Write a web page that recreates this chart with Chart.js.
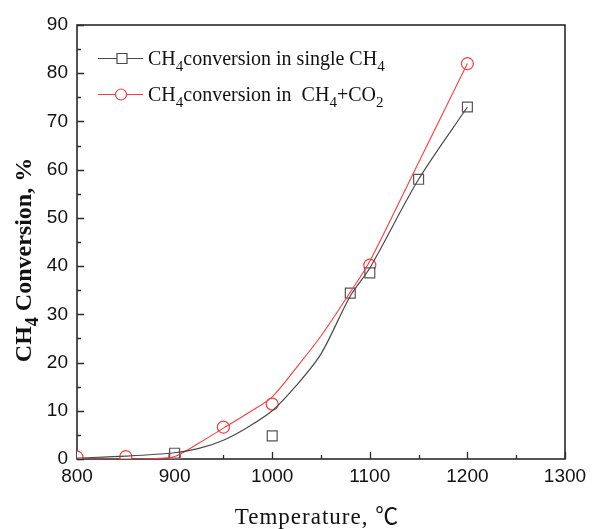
<!DOCTYPE html>
<html>
<head>
<meta charset="utf-8">
<script src="https://cdn.jsdelivr.net/npm/chart.js@4.4.1/dist/chart.umd.min.js"></script>
<style>
  html, body { margin: 0; padding: 0; background: #ffffff; }
  #c { display: block; }
</style>
</head>
<body>
<canvas id="c" width="594" height="529"></canvas>
<script>
// Measured CH4 conversion (%) with a pure CH4 feed
const tempSingle = [900, 1000, 1080, 1100, 1150, 1200];
const convSingle = [1.2, 4.8, 34.4, 38.6, 58.0, 73.0];

// Measured CH4 conversion (%) with a CH4 + CO2 feed
const tempMixed = [800, 850, 900, 950, 1000, 1100, 1200];
const convMixed = [0.4, 0.5, 0.5, 6.6, 11.4, 40.2, 82.0];

// Fitted trend curves drawn through the measurements
const fitTempSingle = [800, 850, 900, 925, 950, 975, 1000, 1025, 1050, 1080, 1100, 1150, 1200];
const fitConvSingle = [0.2, 0.6, 1.3, 2.2, 3.9, 6.6, 10.0, 15.3, 21.8, 33.8, 39.6, 58.0, 73.0];
const fitTempMixed = [800, 850, 880, 900, 925, 950, 975, 1000, 1025, 1050, 1080, 1100, 1150, 1200];
const fitConvMixed = [0.0, 0.0, 0.1, 0.5, 3.3, 6.4, 9.5, 12.9, 19.0, 25.5, 34.6, 41.0, 61.5, 82.0];

// Axis ticks
const xTicks = [800, 900, 1000, 1100, 1200, 1300];
const yTicks = [0, 10, 20, 30, 40, 50, 60, 70, 80, 90];

const BLACK = '#4a4a4a';
const RED = '#ff3b3b';

const pts = (xs, ys) => xs.map((x, i) => ({ x: x, y: ys[i] }));

// Text with subscript runs, e.g. CH4
function richWidth(ctx, parts, font, subFont) {
  let w = 0;
  for (const p of parts) {
    ctx.font = p.sub ? subFont : font;
    w += ctx.measureText(p.t).width;
  }
  return w;
}
function drawRich(ctx, parts, x, y, font, subFont, subDy) {
  ctx.textAlign = 'left';
  ctx.textBaseline = 'alphabetic';
  for (const p of parts) {
    ctx.font = p.sub ? subFont : font;
    ctx.fillText(p.t, x, p.sub ? y + subDy : y);
    x += ctx.measureText(p.t).width;
  }
}

const framePlugin = {
  id: 'frame',
  beforeDatasetsDraw(chart) {
    const { ctx, chartArea: a, scales } = chart;
    ctx.save();
    ctx.strokeStyle = '#2a2a2a';
    ctx.lineWidth = 1.6;
    ctx.strokeRect(a.left, a.top, a.right - a.left, a.bottom - a.top);
    // inward tick marks, major + minor
    ctx.lineWidth = 1.3;
    ctx.beginPath();
    for (let v = 800; v <= 1300; v += 50) {
      const px = Math.round(scales.x.getPixelForValue(v)) + 0.5;
      const len = (v % 100 === 0) ? 7 : 4;
      ctx.moveTo(px, a.bottom);
      ctx.lineTo(px, a.bottom - len);
    }
    for (let v = 0; v <= 90; v += 5) {
      const py = Math.round(scales.y.getPixelForValue(v)) + 0.5;
      const len = (v % 10 === 0) ? 7 : 4;
      ctx.moveTo(a.left, py);
      ctx.lineTo(a.left + len, py);
    }
    ctx.stroke();
    ctx.restore();
  },
  afterDraw(chart) {
    const { ctx, chartArea: a } = chart;
    ctx.save();
    ctx.fillStyle = '#111111';

    // legend
    const lf = '20px "Liberation Serif", "Times New Roman", serif';
    const lsf = '15px "Liberation Serif", "Times New Roman", serif';
    const rows = [
      { y: 58, color: BLACK, style: 'rect',
        parts: [{ t: 'CH' }, { t: '4', sub: true }, { t: 'conversion in single CH' }, { t: '4', sub: true }] },
      { y: 94, color: RED, style: 'circle',
        parts: [{ t: 'CH' }, { t: '4', sub: true }, { t: 'conversion in  CH' }, { t: '4', sub: true }, { t: '+CO' }, { t: '2', sub: true }] }
    ];
    for (const r of rows) {
      ctx.strokeStyle = r.color;
      ctx.lineWidth = 1.2;
      ctx.beginPath();
      ctx.moveTo(98, r.y + 0.5);
      ctx.lineTo(143, r.y + 0.5);
      ctx.stroke();
      ctx.fillStyle = '#ffffff';
      ctx.beginPath();
      if (r.style === 'rect') {
        ctx.rect(117, r.y - 4.5, 10, 10);
      } else {
        ctx.arc(121, r.y + 0.5, 5.5, 0, Math.PI * 2);
      }
      ctx.fill();
      ctx.stroke();
      ctx.fillStyle = '#111111';
      drawRich(ctx, r.parts, 148, r.y + 7, lf, lsf, 6);
    }

    // y axis title
    const yf = 'bold 24px "Liberation Serif", "Times New Roman", serif';
    const ysf = 'bold 18px "Liberation Serif", "Times New Roman", serif';
    const yParts = [{ t: 'CH' }, { t: '4', sub: true }, { t: ' Conversion, %' }];
    ctx.save();
    ctx.translate(31, 260);
    ctx.rotate(-Math.PI / 2);
    const yw = richWidth(ctx, yParts, yf, ysf);
    drawRich(ctx, yParts, -yw / 2, 0, yf, ysf, 7);
    ctx.restore();

    // x axis title
    ctx.font = '23px "Liberation Serif", "Noto Sans CJK SC", serif';
    ctx.letterSpacing = '1px';
    ctx.textAlign = 'center';
    ctx.textBaseline = 'alphabetic';
    ctx.fillText('Temperature, \u2103', (a.left + a.right) / 2 - 4, 524);
    ctx.restore();
  }
};

new Chart(document.getElementById('c'), {
  type: 'line',
  data: {
    datasets: [
      {
        label: 'fit single',
        data: pts(fitTempSingle, fitConvSingle),
        borderColor: BLACK, borderWidth: 1.2,
        pointRadius: 0, tension: 0.3, fill: false
      },
      {
        label: 'fit mixed',
        data: pts(fitTempMixed, fitConvMixed),
        borderColor: RED, borderWidth: 1.1,
        pointRadius: 0, tension: 0.3, fill: false
      },
      {
        label: 'CH4conversion in single CH4',
        data: pts(tempSingle, convSingle),
        showLine: false, clip: 0,
        pointStyle: 'rect', pointRadius: 7,
        pointBorderColor: '#555555', pointBackgroundColor: '#ffffff', pointBorderWidth: 1.2
      },
      {
        label: 'CH4conversion in CH4+CO2',
        data: pts(tempMixed, convMixed),
        showLine: false, clip: 0,
        pointStyle: 'circle', pointRadius: 6,
        pointBorderColor: RED, pointBackgroundColor: '#ffffff', pointBorderWidth: 1.2
      }
    ]
  },
  options: {
    responsive: false,
    animation: false,
    devicePixelRatio: 1,
    layout: { padding: { left: 0, right: 29, top: 25, bottom: 0 } },
    plugins: { legend: { display: false }, tooltip: { enabled: false } },
    scales: {
      x: {
        type: 'linear', min: 800, max: 1300,
        afterFit: (s) => { s.height = 70; },
        afterBuildTicks: (s) => { s.ticks = xTicks.map(v => ({ value: v })); },
        grid: { display: false, drawTicks: false },
        border: { display: false },
        ticks: { padding: 6, color: '#111111', maxRotation: 0, autoSkip: false,
                 callback: (v) => String(v),
                 font: { family: '"Liberation Sans", Arial, sans-serif', size: 19 } }
      },
      y: {
        type: 'linear', min: 0, max: 90,
        afterFit: (s) => { s.width = 77; },
        afterBuildTicks: (s) => { s.ticks = yTicks.map(v => ({ value: v })); },
        grid: { display: false, drawTicks: false },
        border: { display: false },
        ticks: { padding: 9, color: '#111111', autoSkip: false,
                 callback: (v) => String(v),
                 font: { family: '"Liberation Sans", Arial, sans-serif', size: 19 } }
      }
    }
  },
  plugins: [framePlugin]
});
</script>
</body>
</html>
